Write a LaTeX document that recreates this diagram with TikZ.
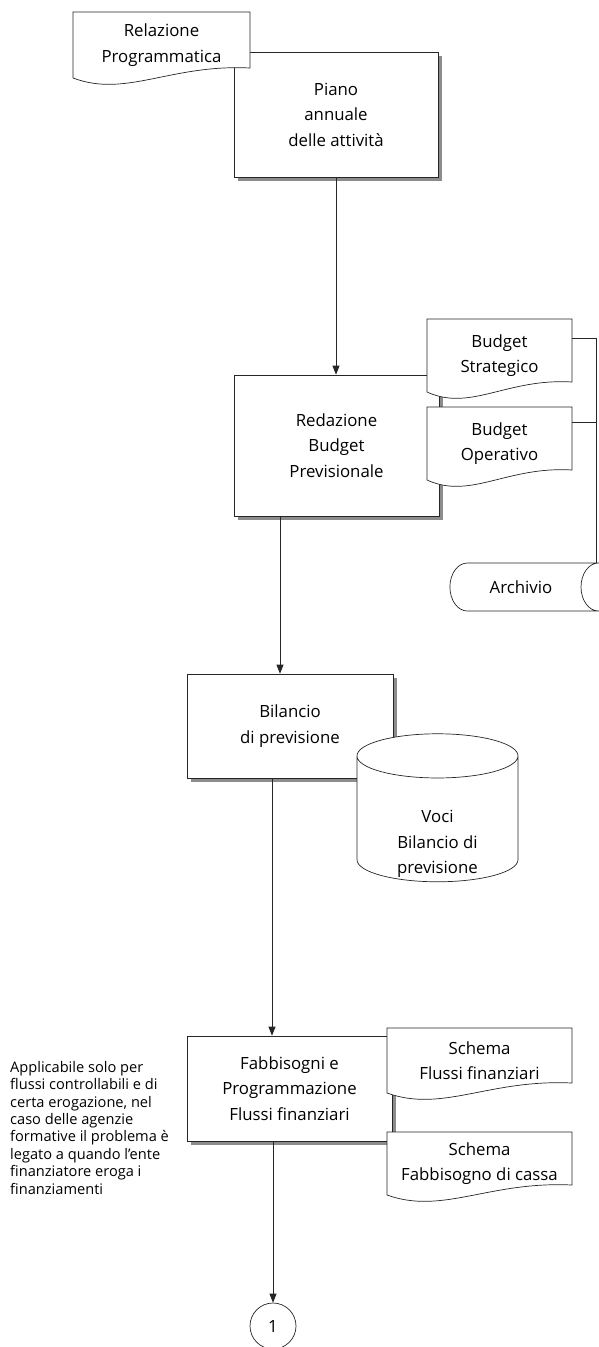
\documentclass[tikz,border=0pt]{standalone}
\usepackage{fontspec}
\setmainfont{Open Sans}
\usepackage{tikz}
\usetikzlibrary{arrows.meta,positioning,shapes.geometric,shadows,calc}

\newcommand{\boxfont}{\fontsize{16.8}{25.5}\selectfont}
\newcommand{\notefont}{\fontsize{14.6}{17.4}\selectfont}
% document symbol: frame, white wavy outline, then the text on top
\newcommand{\flowdoc}[5]{%
  \node[docframe, minimum width=#3, minimum height=#4] (#1) at #2 {};
  \filldraw[docline] (#1.south west) -- (#1.north west) -- (#1.north east) -- ([yshift=10pt]#1.south east)
    .. controls ($(#1.south west)!0.55!(#1.south east)+(0,-14)$) and ($(#1.south west)!0.3!(#1.south east)+(0,20)$) .. (#1.south west) -- cycle;
  \node[doctext] (#1-txt) at (#1.center) {#5};
}

\begin{document}
\begin{tikzpicture}[x=1pt, y=-1pt, >={Triangle[length=9pt,width=7pt]},
  box/.style={draw=black!85,fill=white,line width=.7pt,align=center,font=\boxfont,inner sep=2pt,
    drop shadow={shadow xshift=4pt,shadow yshift=-4pt,fill=black!45,opacity=1}},
  docframe/.style={inner sep=0pt,outer sep=0pt},
  docline/.style={draw=black!85,fill=white,line width=.7pt},
  doctext/.style={align=center,font=\boxfont},
  store/.style={cylinder,draw=black!85,fill=white,line width=.7pt,font=\boxfont,inner sep=0pt},
  flow/.style={draw=black!85,line width=.7pt}]
\useasboundingbox (0,0) rectangle (598,1347);
% main column
\node[box,minimum width=204pt,minimum height=125pt] (piano) at (336,114.5) {Piano\\annuale\\delle attivit\`a};
\node[box,minimum width=205pt,minimum height=141pt] (redazione) at (336.5,445.5) {Redazione\\Budget\\Previsionale};
\node[box,minimum width=206pt,minimum height=104pt] (bilancio) at (290,726) {Bilancio\\di previsione};
\node[box,minimum width=205pt,minimum height=105pt] (fabbisogni) at (289.5,1088.5) {Fabbisogni e\\Programmazione\\Flussi finanziari};
\node[draw=black!85,line width=.7pt,circle,minimum size=46pt,inner sep=0pt,font=\boxfont] (conn) at (273,1326) {1};
% documents
\flowdoc{relazione}{(161.5,45)}{177pt}{66pt}{Relazione\\Programmatica}
\flowdoc{strategico}{(499.5,355.5)}{145pt}{73pt}{Budget\\Strategico}
\flowdoc{operativo}{(499.5,443.5)}{145pt}{73pt}{Budget\\Operativo}
\flowdoc{flussi}{(479.5,1060.5)}{185pt}{65pt}{Schema\\Flussi finanziari}
\flowdoc{cassa}{(479.5,1163.5)}{185pt}{63pt}{Schema\\Fabbisogno di cassa}
% archives
\node[store,aspect=2.7,minimum width=48pt,minimum height=166pt] (archivio) at (524,587) {\phantom{Archivio}};
\node[doctext] (archivio-txt) at (521,587) {Archivio};
\node[store,shape border rotate=90,aspect=0.55,minimum width=161pt,minimum height=148pt] (voci) at (437.5,819) {\phantom{Bilancio di}};
\node[doctext] (voci-txt) at (437.5,844) {Voci\\Bilancio di\\previsione};
\coordinate (archin) at (596,563);
% note
\node[anchor=north west,align=left,font=\notefont,inner sep=0pt] (nota) at (10,1061) {Applicabile solo per\\flussi controllabili e di\\certa erogazione, nel\\caso delle agenzie\\formative il problema \`e\\legato a quando l'ente\\finanziatore eroga i\\finanziamenti};
% connectors
\draw[flow,->] (piano.south) -- (piano.south |- redazione.north);
\draw[flow,->] ([xshift=-10pt]bilancio.north |- redazione.south) -- ([xshift=-10pt]bilancio.north);
\draw[flow,->] ([xshift=-18pt]bilancio.south) -- ([xshift=-18pt]bilancio.south |- fabbisogni.north);
\draw[flow,->] (conn.north |- fabbisogni.south) -- (conn.north);
\draw[flow] ([yshift=17pt]strategico.east) -| (archin);
\draw[flow] ([yshift=21pt]operativo.east) -- ([yshift=21pt]operativo.east -| archin);
\end{tikzpicture}
\end{document}
